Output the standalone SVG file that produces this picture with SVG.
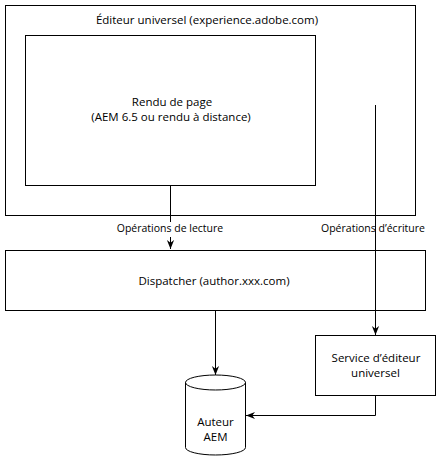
<svg xmlns="http://www.w3.org/2000/svg" width="441" height="461" viewBox="0 0 441 461">
<defs>
<style>
.box{fill:#fff;stroke:#000;stroke-width:1}
.t{font-family:"Open Sans","Noto Sans","DejaVu Sans",sans-serif;font-size:11.5px;fill:#000;text-anchor:middle}
.s{font-size:10.5px}
.c{fill:none;stroke:#000;stroke-width:1}
.lbl{fill:#fff;stroke:none}
</style>
<marker id="arr" viewBox="0 0 10 10" markerWidth="9" markerHeight="9" refX="10" refY="5" orient="auto" markerUnits="userSpaceOnUse">
<path d="M0,1 L10,5 L0,9 L3,5 z" fill="#000"/>
</marker>
</defs>
<rect width="441" height="461" fill="#fff"/>
<g id="editeur">
<rect class="box" x="5.5" y="5.5" width="410" height="210"/>
<text class="t" x="207" y="24">Éditeur universel (experience.adobe.com)</text>
</g>
<g id="rendu">
<rect class="box" x="25.5" y="35.5" width="290" height="150"/>
<text class="t" x="172" y="106">Rendu de page</text>
<text class="t" x="171" y="121">(AEM 6.5 ou rendu à distance)</text>
</g>
<g id="dispatcher">
<rect class="box" x="5.5" y="250.5" width="420" height="60"/>
<text class="t" x="214" y="285">Dispatcher (author.xxx.com)</text>
</g>
<g id="service">
<rect class="box" x="315.5" y="335.5" width="120" height="60"/>
<text class="t" x="376" y="362">Service d’éditeur</text>
<text class="t" x="375.5" y="377">universel</text>
</g>
<g id="auteur">
<path class="box" d="M185.5,382.5 A30,7.5 0 0 1 245.5,382.5 L245.5,447.5 A30,7.5 0 0 1 185.5,447.5 Z"/>
<path class="c" d="M185.5,382.5 A30,7.5 0 0 0 245.5,382.5"/>
<text class="t" x="215.5" y="426">Auteur</text>
<text class="t" x="215.5" y="441">AEM</text>
</g>
<g id="connectors">
<path class="c" d="M170.5,185.5 V249" marker-end="url(#arr)"/>
<path class="c" d="M375.5,105 V335" marker-end="url(#arr)"/>
<path class="c" d="M215.5,310.5 V375" marker-end="url(#arr)"/>
<path class="c" d="M375.5,395.5 V415.5 H246" marker-end="url(#arr)"/>
<rect class="lbl" x="116" y="222" width="108" height="15"/>
<text class="t s" x="170" y="232">Opérations de lecture</text>
<text class="t s" x="373" y="232">Opérations d’écriture</text>
</g>
</svg>
